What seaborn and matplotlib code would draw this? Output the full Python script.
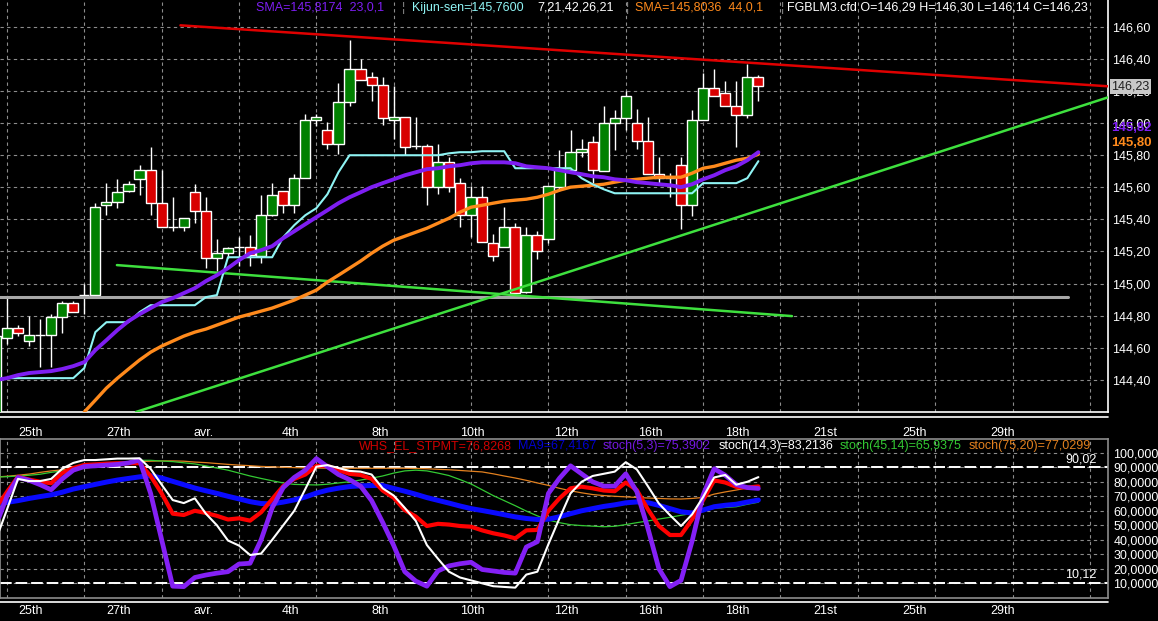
import matplotlib
matplotlib.use("Agg")
import matplotlib.pyplot as plt
from matplotlib.lines import Line2D
from matplotlib.ticker import FixedLocator, FuncFormatter
import seaborn as sns

# ---- candles (index -1 is the clipped bar at the left edge) ----
bar_idx = list(range(-1, 69))
opens = [144.15, 144.66, 144.72, 144.64, 144.68, 144.68, 144.79, 144.88, 144.93, 144.93,
         145.49, 145.51, 145.58, 145.65, 145.71, 145.50, 145.35, 145.35, 145.57, 145.45,
         145.16, 145.19, 145.23, 145.23, 145.17, 145.43, 145.58, 145.49, 145.66, 146.02,
         145.96, 145.87, 146.13, 146.34, 146.29, 146.24, 146.02, 146.04, 145.86, 145.86,
         145.60, 145.76, 145.63, 145.43, 145.54, 145.25, 145.23, 145.35, 144.95, 145.30,
         145.28, 145.60, 145.71, 145.82, 145.88, 145.70, 146.00, 146.03, 146.00, 145.89,
         145.68, 145.66, 145.74, 145.49, 146.02, 146.22, 146.19, 146.11, 146.05, 146.29]
highs = [144.70, 144.91, 144.74, 144.80, 144.78, 144.81, 144.89, 144.89, 145.00, 145.50,
         145.63, 145.65, 145.64, 145.74, 145.85, 145.71, 145.54, 145.41, 145.62, 145.54,
         145.28, 145.23, 145.29, 145.30, 145.55, 145.63, 145.58, 145.68, 146.06, 146.06,
         146.01, 146.25, 146.52, 146.40, 146.32, 146.29, 146.23, 146.04, 146.04, 145.87,
         145.87, 145.79, 145.66, 145.61, 145.61, 145.31, 145.48, 145.38, 145.35, 145.33,
         145.61, 145.83, 145.96, 145.90, 145.92, 146.11, 146.08, 146.20, 146.09, 146.04,
         145.79, 145.69, 145.79, 146.08, 146.31, 146.34, 146.26, 146.26, 146.37, 146.30]
lows = [144.10, 144.62, 144.67, 144.61, 144.48, 144.48, 144.69, 144.82, 144.81, 144.91,
        145.43, 145.47, 145.57, 145.55, 145.43, 145.35, 145.33, 145.33, 145.38, 145.10,
        145.08, 145.16, 145.11, 145.11, 145.13, 145.42, 145.44, 145.44, 145.66, 145.98,
        145.84, 145.81, 146.11, 146.27, 146.14, 145.99, 145.90, 145.80, 145.84, 145.49,
        145.56, 145.57, 145.35, 145.29, 145.26, 145.14, 145.23, 144.94, 144.94, 145.15,
        145.25, 145.58, 145.71, 145.79, 145.63, 145.70, 145.83, 145.96, 145.84, 145.68,
        145.63, 145.54, 145.34, 145.42, 146.02, 146.17, 146.11, 145.85, 146.03, 146.14]
closes = [144.67, 144.72, 144.69, 144.68, 144.68, 144.79, 144.88, 144.82, 144.93, 145.48,
          145.51, 145.57, 145.62, 145.71, 145.50, 145.35, 145.35, 145.41, 145.45, 145.16,
          145.19, 145.22, 145.23, 145.18, 145.43, 145.55, 145.49, 145.66, 146.02, 146.04,
          145.87, 146.13, 146.34, 146.27, 146.24, 146.03, 146.04, 145.85, 145.86, 145.60,
          145.76, 145.60, 145.43, 145.54, 145.26, 145.17, 145.35, 144.94, 145.30, 145.20,
          145.61, 145.72, 145.82, 145.84, 145.71, 146.00, 146.03, 146.17, 145.89, 145.68,
          145.66, 145.66, 145.49, 146.02, 146.22, 146.17, 146.11, 146.05, 146.29, 146.23]

# ---- price-panel indicators ----
sma23 = [144.398, 144.41, 144.429, 144.442, 144.448, 144.454, 144.467, 144.485, 144.51, 144.585,
         144.647, 144.71, 144.766, 144.809, 144.847, 144.884, 144.909, 144.94, 144.971, 145.015,
         145.052, 145.096, 145.146, 145.189, 145.208, 145.233, 145.283, 145.326, 145.37, 145.414,
         145.457, 145.501, 145.538, 145.569, 145.601, 145.626, 145.65, 145.675, 145.694, 145.713,
         145.719, 145.731, 145.738, 145.75, 145.756, 145.756, 145.756, 145.75, 145.731, 145.725,
         145.719, 145.707, 145.694, 145.682, 145.669, 145.663, 145.65, 145.644, 145.632, 145.626,
         145.619, 145.613, 145.601, 145.619, 145.65, 145.675, 145.707, 145.731, 145.769, 145.819]
kijun = [144.41, 144.41, 144.41, 144.41, 144.41, 144.41, 144.41, 144.41, 144.473, 144.697,
         144.759, 144.759, 144.759, 144.822, 144.865, 144.865, 144.865, 144.865, 144.865, 144.915,
         144.928, 145.164, 145.164, 145.164, 145.164, 145.164, 145.289, 145.364, 145.426, 145.47,
         145.557, 145.694, 145.80, 145.80, 145.80, 145.80, 145.80, 145.80, 145.80, 145.80,
         145.80, 145.812, 145.819, 145.819, 145.825, 145.825, 145.825, 145.719, 145.719, 145.719,
         145.719, 145.719, 145.719, 145.657, 145.619, 145.588, 145.563, 145.563, 145.563, 145.563,
         145.563, 145.563, 145.563, 145.563, 145.626, 145.626, 145.626, 145.626, 145.657, 145.763]
sma44_idx = list(range(7, 69))
sma44 = [144.199, 144.273, 144.348, 144.41, 144.467, 144.523, 144.572, 144.61, 144.641, 144.672,
         144.697, 144.716, 144.741, 144.766, 144.791, 144.809, 144.828, 144.847, 144.872, 144.897,
         144.928, 144.959, 145.009, 145.052, 145.096, 145.14, 145.189, 145.233, 145.27, 145.295,
         145.32, 145.345, 145.376, 145.407, 145.445, 145.476, 145.488, 145.501, 145.513, 145.52,
         145.526, 145.538, 145.557, 145.582, 145.601, 145.607, 145.613, 145.619, 145.632, 145.644,
         145.65, 145.657, 145.663, 145.663, 145.663, 145.688, 145.719, 145.731, 145.75, 145.769,
         145.781, 145.806]

# hand-drawn lines (bar index, price)
red_line = ([15.7, 99.64], [146.61, 146.23])
green_up = ([11.67, 99.64], [144.199, 146.161])
green_down = ([9.95, 71.04], [145.115, 144.797])
gray_level = ([-0.7, 96.0], [144.918, 144.918])

# ---- oscillator panel ----
whs = [62, 73, 83.5, 81.5, 80, 79, 86, 89.5, 91.6, 92,
       92.5, 92.8, 92.8, 92.8, 84, 72, 58, 57.1, 60, 58.5,
       56.5, 54, 54.8, 53.2, 59, 68, 77, 82, 85, 91,
       91, 88, 85.5, 84.7, 82, 74, 69, 60.5, 56, 49.5,
       51, 50.5, 49.5, 49, 46.5, 44.5, 43, 41, 46.5, 46.8,
       60, 68.6, 75.5, 76.6, 75.5, 74, 73.5, 79.5, 74.3, 61,
       49.5, 43.3, 43.3, 54, 67.4, 81, 79.5, 76.5, 76, 76.8]
ma9 = [65, 65.8, 67, 68.5, 69.8, 71, 72.8, 75, 76.6, 78.2,
       79.8, 81.2, 82.3, 83.4, 84.2, 82.6, 80.3, 78, 75.7, 73.8,
       72, 70, 68.2, 66.3, 65, 64.8, 66, 67.5, 69.5, 72.2,
       74.2, 75.6, 76.7, 77.2, 77.4, 77.4, 75.4, 73.5, 71.4, 69.1,
       67.2, 65.3, 63.3, 61.5, 60.2, 58.8, 57.3, 55.8, 54.7, 54,
       54.2, 55.9, 58, 60, 61.5, 63, 64.1, 65.5, 66.1, 65.6,
       63.7, 61.5, 59.3, 58.5, 60.5, 62.8, 63.8, 64.5, 66, 67.4]
stoch_5_3 = [50, 70, 83, 81, 78, 74.5, 82, 88, 90.5, 91,
             91.5, 92, 93, 95, 72, 40, 8, 7.7, 14, 15.7,
             17, 18, 23.3, 23.8, 40, 62, 76, 83, 88, 96,
             90.4, 85, 81.5, 77, 67, 52, 36, 18, 11.5, 8,
             18.5, 22, 23.5, 24.5, 19.5, 18.5, 17.5, 17, 35, 38.7,
             72, 82.4, 91, 85.5, 80, 77, 77, 85.5, 73.2, 48,
             20, 7.7, 12, 39, 70.9, 89, 84.5, 78, 76, 75.4]
stoch_14_3 = [40, 60.8, 82, 80.5, 80.5, 82, 89, 93, 95, 95,
              95.5, 96, 96, 96.2, 89, 78, 67.4, 65.3, 68.6, 58,
              50, 39.5, 36, 29.5, 30.5, 40, 50, 60, 75, 90.4,
              91.5, 89.5, 87.5, 87, 85, 75.5, 70.5, 62, 53, 36.4,
              27, 18, 14, 12, 10, 8, 7.5, 7, 16, 18,
              37, 54.8, 72, 80, 84, 85.5, 87, 93.5, 88.5, 77,
              65, 57, 49.5, 57.5, 69.5, 83, 84.7, 78, 80, 83.2]
stoch_45_14 = [83.3, 83.5, 84, 84.5, 85.2, 86.5, 87.5, 88.5, 89.3, 90.5,
               91.7, 92.8, 93.9, 94.8, 94.8, 94.3, 93.9, 93.1, 92.3, 91,
               89.5, 88, 86, 84, 82.3, 80.7, 79.2, 78.2, 78, 77.8,
               78.3, 79.2, 80, 81.2, 82.5, 84, 86, 87.5, 88, 87.5,
               86, 84.3, 81.5, 78.5, 74.5, 70.5, 67, 63.5, 59.8, 56.5,
               53.6, 51.8, 50.4, 49.8, 49.4, 49, 49.3, 50.5, 51.8, 53,
               54.3, 55.5, 56.9, 58.2, 60, 61.7, 62.3, 62.8, 64.5, 65.9]
stoch_75_20 = [83.3, 83.8, 84.5, 85.3, 86.5, 87.5, 88.2, 89.5, 90.5, 91.2,
               92, 92.7, 93.4, 93.9, 94.2, 94.4, 94.4, 94.2, 93.6, 93.2,
               92.6, 92, 91.5, 91.1, 90.6, 90.3, 90, 89.8, 89.6, 89.5,
               89.4, 89.3, 89.3, 89.3, 89.3, 89.3, 89.3, 89.3, 89.2, 89,
               88.6, 88.3, 87.8, 87.3, 86.8, 85.5, 84, 82.6, 81, 79.2,
               77.5, 75.5, 73.8, 72.4, 71.2, 70.5, 70, 69.6, 69.2, 68.8,
               68.5, 68.2, 68.1, 68.5, 69.2, 71.5, 73, 74.3, 75.8, 77.0]

date_pos = [2.1, 10.1, 17.8, 25.7, 33.8, 42.1, 50.6, 58.2, 66.1, 74.1, 82.1, 90.1]
date_lbl = ['25th', '27th', 'avr.', '4th', '8th', '10th', '12th', '16th', '18th',
            '21st', '25th', '29th']
grid_pos = list(range(0, 99, 7))
price_ticks = [144.4, 144.6, 144.8, 145.0, 145.2, 145.4, 145.6, 145.8, 146.0, 146.2, 146.4, 146.6]
osc_ticks = [10, 20, 30, 40, 50, 60, 70, 80, 90, 100]

sns.set_theme(style='dark', rc={'axes.facecolor': 'black', 'figure.facecolor': 'black'})
plt.rcParams['font.family'] = ['Liberation Sans', 'DejaVu Sans']

W, H = 1158, 621
fig = plt.figure(figsize=(W / 100, H / 100), dpi=100)
ax1 = fig.add_axes([0, (H - 412) / H, 1108 / W, 412 / H])
ax2 = fig.add_axes([0, (H - 598) / H, 1108 / W, (598 - 439) / H])

XLIM = (-0.63, 99.64)
Y1 = (144.199, 146.768)
Y2 = (-0.14, 109.5)

GRID = dict(color='#8c8c8c', lw=0.8, ls=(0, (3, 3)))
for ax in (ax1, ax2):
    ax.set_facecolor('black')
    ax.set_xticks(date_pos, date_lbl)
    ax.xaxis.set_minor_locator(FixedLocator(grid_pos))
    ax.yaxis.tick_right()
    ax.tick_params(axis='both', which='both', length=0, labelcolor='white', labelsize=9)
    ax.grid(False)
    ax.grid(True, which='minor', axis='x', **GRID)
    ax.grid(True, which='major', axis='y', **GRID)
    ax.set_axisbelow(True)

# price panel
ax1.set_yticks(price_ticks)
ax1.yaxis.set_major_formatter(FuncFormatter(lambda v, p: f'{v:.2f}'.replace('.', ',')))
ax1.tick_params(axis='y', pad=3)
ax1.tick_params(axis='x', pad=10.5)
for s in ('top', 'left'):
    ax1.spines[s].set_visible(False)
for s in ('right', 'bottom'):
    ax1.spines[s].set_color('white')
    ax1.spines[s].set_linewidth(1.2)

body_lo = [min(o, c) for o, c in zip(opens, closes)]
body_h = [abs(c - o) for o, c in zip(opens, closes)]
fills = ['#008000' if c > o else ('#d80000' if c < o else 'white') for o, c in zip(opens, closes)]
ax1.vlines(bar_idx, lows, highs, color='white', lw=1, zorder=2)
ax1.bar(bar_idx, body_h, bottom=body_lo, width=0.92, color=fills,
        edgecolor='white', linewidth=1, zorder=3)

line_kw = dict(legend=False, errorbar=None, sort=False)
sns.lineplot(x=gray_level[0], y=gray_level[1], ax=ax1, color='#a8a8a8', lw=2.2, zorder=4, **line_kw)
sns.lineplot(x=green_down[0], y=green_down[1], ax=ax1, color='#3ee03e', lw=1.8, zorder=5, **line_kw)
sns.lineplot(x=green_up[0], y=green_up[1], ax=ax1, color='#3ee03e', lw=1.8, zorder=5, **line_kw)
sns.lineplot(x=red_line[0], y=red_line[1], ax=ax1, color='#e00000', lw=1.8, zorder=5, **line_kw)
sns.lineplot(x=sma44_idx, y=sma44, ax=ax1, color='#ff8a1c', lw=2.4, zorder=6, **line_kw)
sns.lineplot(x=bar_idx, y=kijun, ax=ax1, color='#8ff4f4', lw=1.5, zorder=6, **line_kw)
sns.lineplot(x=bar_idx, y=sma23, ax=ax1, color='#7e1ef2', lw=2.8, zorder=7, **line_kw)
ax1.set_ylim(*Y1)
ax1.set_xlim(*XLIM)
ax1.set_xlabel('')

ytr = ax1.get_yaxis_transform()
ax1.text(1.003, 146.23, '146,23', transform=ytr, color='#202020', fontsize=9, va='center',
         bbox=dict(facecolor='#c8c8c8', edgecolor='none', pad=1.2), zorder=10)
ax1.text(1.003, 145.968, '145,82', transform=ytr, color='#7e1ef2', fontsize=9.5,
         fontweight='bold', va='center')
ax1.text(1.003, 145.875, '145,80', transform=ytr, color='#ff8a1c', fontsize=9.5,
         fontweight='bold', va='center')

# oscillator panel
ax2.set_yticks(osc_ticks)
ax2.yaxis.set_major_formatter(FuncFormatter(lambda v, p: f'{v:.4f}'.replace('.', ',')))
ax2.tick_params(axis='y', pad=4)
ax2.tick_params(axis='x', pad=5)
for s in ax2.spines.values():
    s.set_color('#8c8c8c')
    s.set_linewidth(1.2)
ax2.axhline(90.02, color='white', lw=1.4, ls=(0, (6, 2)), zorder=2)
ax2.axhline(10.12, color='white', lw=1.4, ls=(0, (6, 2)), zorder=2)
ax2.text(0.99, 90.02 + 1.5, '90,02', transform=ax2.get_yaxis_transform(), color='white',
         fontsize=9, ha='right', va='bottom')
ax2.text(0.99, 10.12 + 1.5, '10,12', transform=ax2.get_yaxis_transform(), color='white',
         fontsize=9, ha='right', va='bottom')

sns.lineplot(x=bar_idx, y=stoch_75_20, ax=ax2, color='#e2801f', lw=0.9, zorder=3, **line_kw)
sns.lineplot(x=bar_idx, y=stoch_45_14, ax=ax2, color='#33c933', lw=0.9, zorder=3, **line_kw)
sns.lineplot(x=bar_idx, y=ma9, ax=ax2, color='#0a0aff', lw=3.6, zorder=4, **line_kw)
sns.lineplot(x=bar_idx, y=whs, ax=ax2, color='#ff0000', lw=3.0, zorder=5, **line_kw)
sns.lineplot(x=bar_idx, y=stoch_5_3, ax=ax2, color='#8420f5', lw=3.4, zorder=6, **line_kw)
sns.lineplot(x=bar_idx, y=stoch_14_3, ax=ax2, color='white', lw=1.5, zorder=7, **line_kw)
ax2.set_ylim(*Y2)
ax2.set_xlim(*XLIM)
ax2.set_xlabel('')

# second white rule under each panel
for y in (417, 602):
    fig.add_artist(Line2D([0, 1108 / W], [1 - y / H, 1 - y / H], color='white', lw=1.2))


def ftext(x, y, s, c, **kw):
    fig.text(x / W, 1 - y / H, s, color=c, fontsize=9, va='center', ha='left', **kw)


# legend texts, top of price panel
ftext(256, 8, 'SMA=145,8174  23,0,1', '#7e1ef2')
ftext(402, 8, '¦', '#8c8c8c')
ftext(412, 8, 'Kijun-sen=145,7600', '#8ff4f4')
ftext(537, 8, '7,21,42,26,21', 'white')
ftext(626, 8, '¦', '#8c8c8c')
ftext(635, 8, 'SMA=145,8036  44,0,1', '#ff8a1c')
ftext(781, 8, '¦', '#8c8c8c')
ftext(787, 8, 'FGBLM3.cfd O=146,29 H=146,30 L=146,14 C=146,23', 'white')

# legend texts, top of oscillator panel
ftext(359, 446, 'WHS_EL_STPMT=76,8268', '#d00000')
ftext(518, 446, 'MA9=67,4167', '#0000d0')
ftext(603, 446, 'stoch(5,3)=75,3902', '#7418e0')
ftext(719, 446, 'stoch(14,3)=83,2136', 'white')
ftext(840, 446, 'stoch(45,14)=65,9375', '#33c933')
ftext(969, 446, 'stoch(75,20)=77,0299', '#e2801f')

fig.savefig('out.png', dpi=100, facecolor='black')
